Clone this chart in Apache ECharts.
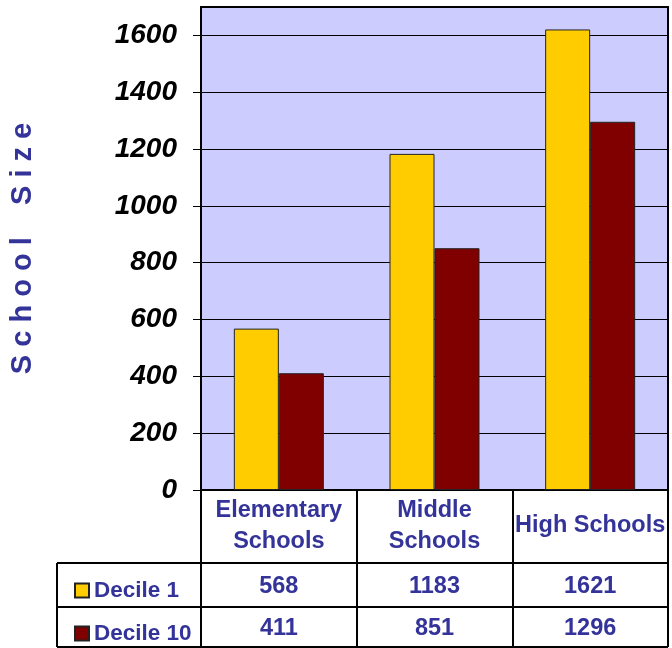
<!DOCTYPE html>
<html>
<head>
<meta charset="utf-8">
<script src="https://cdn.jsdelivr.net/npm/echarts@6/dist/echarts.min.js"></script>
<style>
  html, body { margin: 0; padding: 0; background: #fff; }
  #school_chart { width: 672px; height: 648px; }
</style>
</head>
<body>
<div id="school_chart"></div>
<script>
// chart values
var categories = ["Elementary\nSchools", "Middle\nSchools", "High Schools"];
var decile1 = [568, 1183, 1621];
var decile10 = [411, 851, 1296];
var seriesNames = ["Decile 1", "Decile 10"];
var yTicks = { min: 0, max: 1700, interval: 200 };

var font = "'Liberation Sans', Arial, sans-serif";
var blue = "#333399";
var tableFontSize = 23.5;

var myChart = echarts.init(document.getElementById("school_chart"));

// row value labels are separate x axes sitting on the same grid, only the margin differs
function rowAxis(values, margin) {
  return {
    type: "category",
    data: categories,
    position: "bottom",
    axisLine: { show: false },
    axisTick: { show: false },
    splitLine: { show: false },
    axisLabel: {
      interval: 0,
      margin: margin,
      verticalAlign: "middle",
      color: blue,
      fontFamily: font,
      fontWeight: "bold",
      fontSize: tableFontSize,
      formatter: function(v, i) {
        return String(values[i]);
      }
    }
  };
}

function legendRow(name, top) {
  return {
    data: [name],
    left: 69,
    top: top,
    itemWidth: 14,
    itemHeight: 14,
    icon: "rect",
    textStyle: {
      color: blue,
      fontFamily: font,
      fontWeight: "bold",
      fontSize: 22.5,
      lineHeight: 22
    }
  };
}

myChart.setOption({
  animation: false,
  color: ["#ffcc00", "#800000"],
  grid: {
    left: 201,
    right: 4,
    top: 7,
    bottom: 158,
    show: true,
    backgroundColor: "#ccccff",
    borderColor: "#000",
    borderWidth: 2
  },
  legend: [legendRow(seriesNames[0], 574), legendRow(seriesNames[1], 617)],
  xAxis: [
    {
      type: "category",
      data: categories,
      axisLine: { show: true, lineStyle: { color: "#000", width: 2 } },
      axisTick: {
        show: true,
        interval: 0,
        length: 157,
        lineStyle: { color: "#000", width: 2 }
      },
      axisLabel: {
        interval: 0,
        margin: 36,
        verticalAlign: "middle",
        lineHeight: 31,
        color: blue,
        fontFamily: font,
        fontWeight: "bold",
        fontSize: tableFontSize
      }
    },
    rowAxis(decile1, 97),
    rowAxis(decile10, 139)
  ],
  yAxis: {
    type: "value",
    min: yTicks.min,
    max: yTicks.max,
    interval: yTicks.interval,
    name: "S c h o o l    S i z e",
    nameLocation: "middle",
    nameRotate: 90,
    nameGap: 164,
    nameTextStyle: {
      color: blue,
      fontFamily: font,
      fontWeight: "bold",
      fontSize: 29
    },
    axisLine: { show: false },
    axisTick: { show: true, length: 8, lineStyle: { color: "#000", width: 1 } },
    splitLine: { show: true, lineStyle: { color: "#000", width: 1 } },
    axisLabel: {
      showMaxLabel: false,
      margin: 24,
      color: "#000",
      fontFamily: font,
      fontWeight: "bold",
      fontStyle: "italic",
      fontSize: 28,
      formatter: function(v) {
        return String(v);
      }
    }
  },
  series: [
    {
      name: seriesNames[0],
      type: "bar",
      data: decile1,
      barWidth: 45,
      barGap: "0%",
      itemStyle: { borderColor: "#222", borderWidth: 1 }
    },
    {
      name: seriesNames[1],
      type: "bar",
      data: decile10,
      barWidth: 45,
      barGap: "0%",
      itemStyle: { borderColor: "#222", borderWidth: 1 }
    }
  ],
  // data table rules under the plot
  graphic: [
    { type: "line", shape: { x1: 57, y1: 563, x2: 668, y2: 563 }, style: { stroke: "#000", lineWidth: 2 } },
    { type: "line", shape: { x1: 57, y1: 607, x2: 668, y2: 607 }, style: { stroke: "#000", lineWidth: 2 } },
    { type: "line", shape: { x1: 57, y1: 647, x2: 668, y2: 647 }, style: { stroke: "#000", lineWidth: 2 } },
    { type: "line", shape: { x1: 57, y1: 563, x2: 57, y2: 647 }, style: { stroke: "#000", lineWidth: 2 } }
  ]
});
</script>
</body>
</html>
